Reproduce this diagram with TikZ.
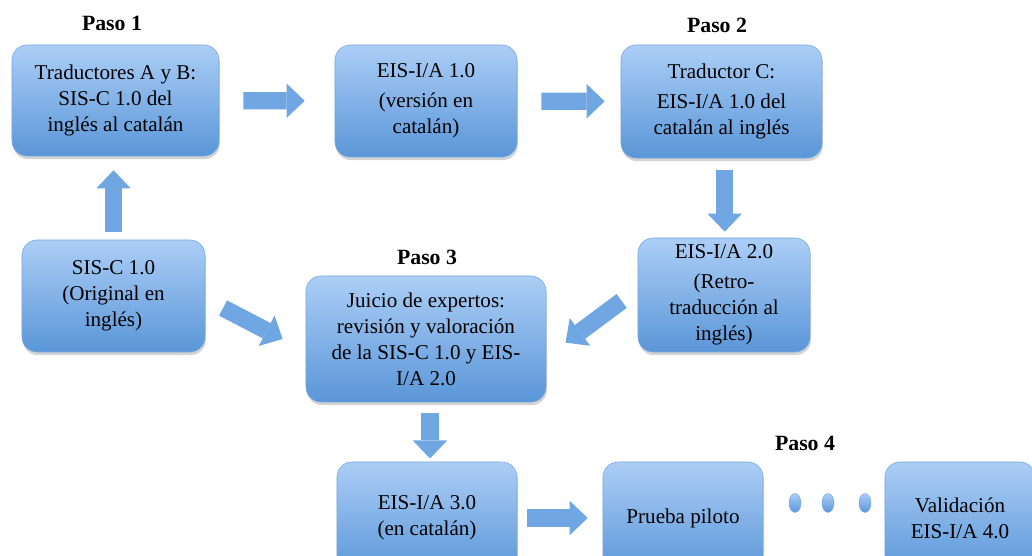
\documentclass[tikz,border=0pt]{standalone}
\usepackage{fontspec}
\setmainfont{Liberation Serif}
\usetikzlibrary{arrows.meta,shadows,shapes.geometric}
\definecolor{boxtop}{RGB}{172,206,246}
\definecolor{boxbot}{RGB}{90,150,216}
\definecolor{boxline}{RGB}{120,168,222}
\definecolor{arrowblue}{RGB}{112,166,226}
\tikzset{
  etapa/.style={
    shape = rectangle,
    rounded corners = 0.38cm,
    draw = boxline,
    top color = boxtop,
    bottom color = boxbot,
    drop shadow = {opacity=0.35, shadow xshift=0.6pt, shadow yshift=-2.2pt},
    align = center,
    font = \fontsize{15}{18.5}\selectfont,
    inner sep = 2pt
  },
  paso/.style={
    font = \fontsize{15.5}{18}\selectfont\bfseries,
    inner sep = 0pt
  },
  flecha/.style={
    draw = arrowblue,
    line width = 0.43cm,
    -{Triangle[width=0.86cm,length=0.45cm,line width=0pt]}
  },
  punto/.style={
    shape = ellipse,
    draw = boxline,
    top color = boxtop,
    bottom color = boxbot,
    minimum width = 0.3cm,
    minimum height = 0.47cm,
    inner sep = 0pt
  }
}

\begin{document}
\begin{tikzpicture}[x=0.025cm, y=-0.025cm]
        \clip (0,0) rectangle (1032,556);

        % pasos
        \node[paso] (paso1) at (112,23) {Paso 1};
        \node[paso] (paso2) at (717,25) {Paso 2};
        \node[paso] (paso3) at (427,257) {Paso 3};
        \node[paso] (paso4) at (805,443) {Paso 4};

        % cajas
        \node[etapa, minimum width=5.175cm, minimum height=2.775cm] (trad) at (115.5,100.5)
            {Traductores A y B:\\SIS-C 1.0 del\\inglés al catalán};
        \node[etapa, minimum width=4.55cm, minimum height=2.8cm] (eis1) at (426,101)
            {EIS-I/A 1.0\\[2.5pt](versión en\\catalán)};
        \node[etapa, minimum width=5.025cm, minimum height=2.825cm] (tradc) at (721.5,101.5)
            {Traductor C:\\[2.5pt]EIS-I/A 1.0 del\\catalán al inglés};
        \node[etapa, minimum width=4.575cm, minimum height=2.8cm] (sis) at (113.5,296)
            {SIS-C 1.0\\(Original en\\inglés)};
        \node[etapa, minimum width=6cm, minimum height=3.15cm] (juicio) at (426,339)
            {Juicio de expertos:\\revisión y valoración\\de la SIS-C 1.0 y EIS-\\I/A 2.0};
        \node[etapa, minimum width=4.3cm, minimum height=2.85cm] (eis2) at (724,295)
            {EIS-I/A 2.0\\[2.5pt](Retro-\\traducción al\\inglés)};
        \node[etapa, minimum width=4.5cm, minimum height=2.8cm] (eis3) at (427,518)
            {EIS-I/A 3.0\\(en catalán)};
        \node[etapa, minimum width=4cm, minimum height=2.8cm] (prueba) at (683,518)
            {Prueba piloto};
        \node[etapa, minimum width=3.75cm, minimum height=2.8cm] (valid) at (960,518)
            {Validación\\EIS-I/A 4.0};

        % puntos suspensivos
        \node[punto] (p1) at (795,503) {};
        \node[punto] (p2) at (828,503) {};
        \node[punto] (p3) at (865,503) {};

        % flechas
        \draw[flecha, shorten <=0.6cm, shorten >=0.75cm] (trad) -- (eis1);
        \draw[flecha, shorten <=0.6cm, shorten >=0.4cm] (eis1) -- (tradc);
        \draw[flecha, shorten <=0.3cm, shorten >=0.15cm] ([xshift=0.08cm]tradc.south) -- ([xshift=0.08cm]tradc.south |- eis2.north);
        \draw[flecha, shorten <=0.2cm, shorten >=0.35cm] (sis.north) -- (sis.north |- trad.south);
        \draw[flecha, shorten <=0.5cm, shorten >=0.65cm] ([yshift=-0.07cm]sis.east) -- ([yshift=-0.3cm]juicio.west);
        \draw[flecha, shorten <=0.5cm, shorten >=0.6cm] ([yshift=0.15cm]eis2.west) -- ([yshift=-0.45cm]juicio.east);
        \draw[flecha, shorten <=0.27cm, shorten >=0.08cm] ([xshift=0.1cm]juicio.south) -- ([xshift=0.1cm]juicio.south |- eis3.north);
        \draw[flecha, shorten <=0.25cm, shorten >=0.375cm] (eis3) -- (prueba);
    \end{tikzpicture}
\end{document}
